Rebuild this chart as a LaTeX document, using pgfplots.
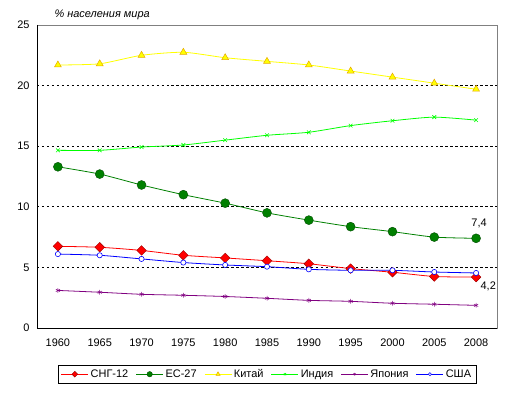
\documentclass[border=0pt]{standalone}
\usepackage{pgfplots}
\pgfplotsset{compat=1.18}
\usepackage{fontspec}
\setmainfont{Liberation Sans}
\definecolor{cisred}{RGB}{255,0,0}
\definecolor{eugreen}{RGB}{0,128,0}
\definecolor{chyellow}{RGB}{255,255,0}
\definecolor{chedge}{RGB}{230,170,0}
\definecolor{inlime}{RGB}{0,255,0}
\definecolor{jppurple}{RGB}{128,0,128}
\definecolor{usblue}{RGB}{0,0,255}
\begin{document}
\begin{tikzpicture}
\useasboundingbox (-37bp,-68bp) rectangle (475bp,328bp);
\begin{axis}[
  at={(0,0)}, anchor=south west,
  scale only axis,
  width=460bp, height=303bp,
  xmin=-0.5, xmax=10.5, ymin=0, ymax=25,
  xtick={0,...,10},
  xticklabels={1960,1965,1970,1975,1980,1985,1990,1995,2000,2005,2008},
  ytick={0,5,10,15,20,25},
  major tick length=0pt,
  ymajorgrids,
  grid style={black, line width=0.7pt, dash pattern=on 2.5pt off 2.5pt},
  axis line style={gray, line width=0.8pt},
  tick label style={font=\fontsize{11}{13}\selectfont},
  /pgf/number format/assume math mode=true,
  xticklabel style={yshift=-7bp},
  yticklabel style={xshift=-4bp},
  legend columns=6,
  legend style={at={(0.5,0)}, anchor=north, yshift=-37bp, draw=black, line width=0.8pt,
    font=\fontsize{11}{13}\selectfont, inner xsep=3pt, inner ysep=2pt,
    /tikz/every even column/.append style={column sep=5.5bp}},
  legend image code/.code={\draw[mark repeat=2,mark phase=2] plot coordinates {(0bp,0bp) (13.5bp,0bp) (27bp,0bp)};},
  legend image post style={line width=0.8pt, sharp plot, /tikz/every mark/.append style={scale=0.6}},
  every axis plot/.append style={line width=0.8pt, smooth, tension=0.4},
  clip=false,
]
\addplot[cisred, mark=square*, mark options={rotate=45, fill=cisred, draw=red!60!black, line width=0.4pt}, mark size=3.4bp]
  coordinates {(0,6.74)(1,6.66)(2,6.4)(3,6.0)(4,5.78)(5,5.55)(6,5.3)(7,4.9)(8,4.6)(9,4.25)(10,4.2)};
\addlegendentry{СНГ-12}
\addplot[eugreen, mark=*, mark options={fill=eugreen, draw=black!70!green, line width=0.4pt}, mark size=4.5bp]
  coordinates {(0,13.3)(1,12.7)(2,11.8)(3,11.0)(4,10.3)(5,9.5)(6,8.9)(7,8.36)(8,7.95)(9,7.5)(10,7.4)};
\addlegendentry{ЕС-27}
\addplot[chyellow, mark=triangle*, mark options={fill=chyellow, draw=chedge, line width=0.5pt}, mark size=4bp]
  coordinates {(0,21.7)(1,21.8)(2,22.5)(3,22.75)(4,22.3)(5,22.0)(6,21.7)(7,21.2)(8,20.7)(9,20.2)(10,19.7)};
\addlegendentry{Китай}
\addplot[inlime, mark=x, mark options={line width=0.6pt}, mark size=2.6bp]
  coordinates {(0,14.66)(1,14.66)(2,14.93)(3,15.1)(4,15.5)(5,15.9)(6,16.15)(7,16.7)(8,17.1)(9,17.4)(10,17.15)};
\addlegendentry{Индия}
\addplot[jppurple, mark=asterisk, mark options={line width=0.5pt}, mark size=2.4bp]
  coordinates {(0,3.1)(1,2.95)(2,2.78)(3,2.7)(4,2.6)(5,2.45)(6,2.28)(7,2.2)(8,2.04)(9,1.96)(10,1.87)};
\addlegendentry{Япония}
\addplot[usblue, mark=*, mark options={fill=white, draw=usblue, line width=0.6pt}, mark size=2.6bp]
  coordinates {(0,6.1)(1,6.0)(2,5.7)(3,5.4)(4,5.2)(5,5.06)(6,4.84)(7,4.76)(8,4.76)(9,4.62)(10,4.54)};
\addlegendentry{США}
\node[anchor=south, font=\fontsize{11}{13}\selectfont] at (axis cs:10,7.4) [xshift=3bp, yshift=7bp] {7,4};
\node[anchor=north west, font=\fontsize{11}{13}\selectfont] at (axis cs:10,4.2) [xshift=1bp, yshift=-1bp] {4,2};
\node[anchor=base west, font=\itshape\fontsize{11}{13}\selectfont] at (rel axis cs:0,1) [xshift=14bp, yshift=7bp] {\% населения мира};
\draw[black, line width=0.8pt] (rel axis cs:0,1) -- (rel axis cs:0,0) -- (rel axis cs:1,0);
\end{axis}
\end{tikzpicture}
\end{document}
